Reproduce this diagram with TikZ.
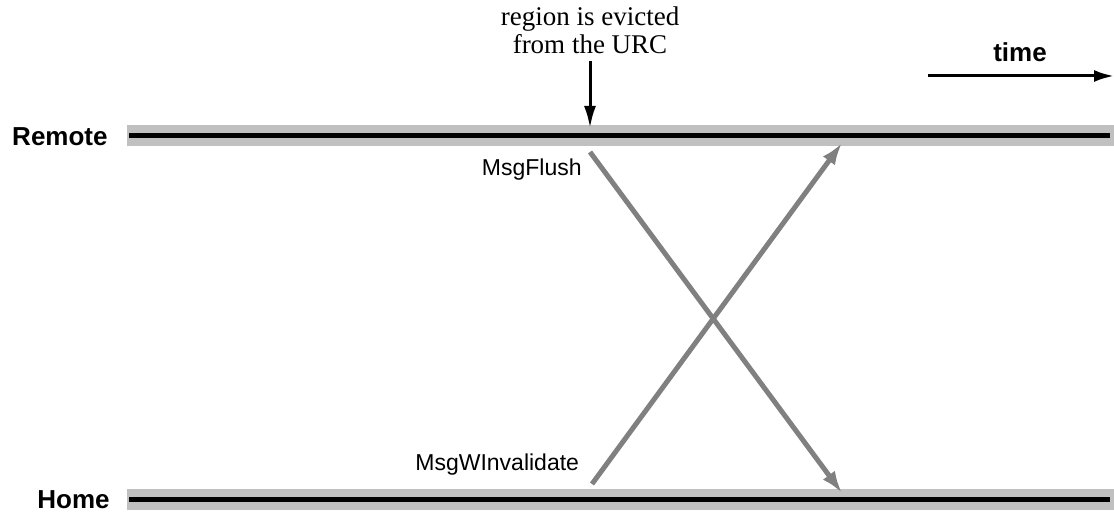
\documentclass[tikz,border=0pt]{standalone}
\usepackage{fontspec}
\setmainfont{Liberation Serif}
\setsansfont{Liberation Sans}
\usetikzlibrary{arrows.meta}
\definecolor{band}{RGB}{192,192,192}
\definecolor{msg}{RGB}{128,128,128}
\begin{document}
\begin{tikzpicture}[x=0.5pt,y=-0.5pt,
  bandline/.style={band,line width=10.5pt},
  axisline/.style={black,line width=2.5pt},
  proc/.style={font=\sffamily\bfseries\fontsize{13}{15}\selectfont,anchor=east,inner sep=0pt},
  msglabel/.style={font=\sffamily\fontsize{11.5}{13}\selectfont,inner sep=0pt},
  msgarrow/.style={msg,line width=2.5pt,-{Latex[length=11pt,width=7.5pt]}},
  blackarrow/.style={black,line width=1.5pt,-{Latex[length=11pt,width=6pt]}}]
\useasboundingbox (0,0) rectangle (1114,512);
% coordinates
\coordinate (rL) at (127,135.5);
\coordinate (rR) at (1114,135.5);
\coordinate (hL) at (127,500);
\coordinate (hR) at (1114,500);
% bands
\draw[bandline] (rL) -- (rR);
\draw[bandline] (hL) -- (hR);
\draw[axisline] (129,135.5) -- (1110,135.5);
\draw[axisline] (129,500) -- (1110,500);
% labels
\node[proc] (remote) at (108,137) {Remote};
\node[proc] (home) at (110,500) {Home};
% evict
\node[align=center,font=\fontsize{13.5}{14}\selectfont,inner sep=0pt] (evict) at (590,30) {region is evicted\\from the URC};
\coordinate (evs) at (590,61);
\coordinate (eve) at (590,128);
\draw[blackarrow] (evs) -- (eve);
% time
\node[font=\sffamily\bfseries\fontsize{13}{15}\selectfont,inner sep=0pt] (time) at (1020,52) {time};
\coordinate (ts) at (928,76);
\coordinate (te) at (1114,76);
\draw[blackarrow,-{Latex[length=10pt,width=6pt]}] (ts) -- (te);
% messages
\coordinate (fs) at (590,152);
\coordinate (fe) at (842,493);
\coordinate (ws) at (592,484);
\coordinate (we) at (842,143);
\draw[msgarrow] (fs) -- (fe);
\draw[msgarrow] (ws) -- (we);
\node[msglabel,anchor=east] (flush) at (582,170) {MsgFlush};
\node[msglabel,anchor=west] (winv) at (415,465) {MsgWInvalidate};
\end{tikzpicture}
\end{document}
